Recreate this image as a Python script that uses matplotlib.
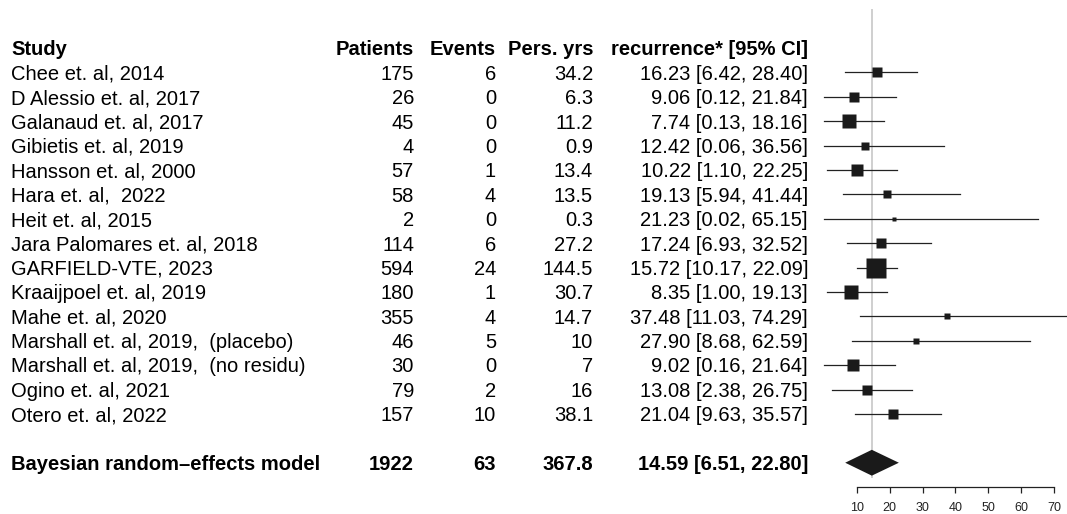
import matplotlib
matplotlib.use("Agg")
import matplotlib.pyplot as plt
import numpy as np

plt.rcParams["font.family"] = ["Liberation Sans", "DejaVu Sans"]

studies = ["Chee et. al, 2014", "D Alessio et. al, 2017", "Galanaud et. al, 2017",
           "Gibietis et. al, 2019", "Hansson et. al, 2000", "Hara et. al,  2022",
           "Heit et. al, 2015", "Jara Palomares et. al, 2018", "GARFIELD-VTE, 2023",
           "Kraaijpoel et. al, 2019", "Mahe et. al, 2020", "Marshall et. al, 2019,  (placebo)",
           "Marshall et. al, 2019,  (no residu)", "Ogino et. al, 2021", "Otero et. al, 2022"]
patients = [175, 26, 45, 4, 57, 58, 2, 114, 594, 180, 355, 46, 30, 79, 157]
events = [6, 0, 0, 0, 1, 4, 0, 6, 24, 1, 4, 5, 0, 2, 10]
pers_yrs = ["34.2", "6.3", "11.2", "0.9", "13.4", "13.5", "0.3", "27.2", "144.5",
            "30.7", "14.7", "10", "7", "16", "38.1"]
est = [16.23, 9.06, 7.74, 12.42, 10.22, 19.13, 21.23, 17.24, 15.72, 8.35, 37.48, 27.90, 9.02, 13.08, 21.04]
lo = [6.42, 0.12, 0.13, 0.06, 1.10, 5.94, 0.02, 6.93, 10.17, 1.00, 11.03, 8.68, 0.16, 2.38, 9.63]
hi = [28.40, 21.84, 18.16, 36.56, 22.25, 41.44, 65.15, 32.52, 22.09, 19.13, 74.29, 62.59, 21.64, 26.75, 35.57]
# relative weights (%)
weights = [6.7, 6.7, 10.4, 3.1, 7.5, 3.5, 1.3, 5.5, 21.8, 11.0, 1.5, 1.5, 7.5, 6.2, 5.9]

summary_label = "Bayesian random\u2013effects model"
summary_n = 1922
summary_events = 63
summary_py = "367.8"
summary_est, summary_lo, summary_hi = 14.59, 6.51, 22.80

headers = ["Study", "Patients", "Events", "Pers. yrs", "recurrence* [95% CI]"]
xticks = [10, 20, 30, 40, 50, 60, 70]

W, H = 1067, 514
fig = plt.figure(figsize=(W / 100, H / 100), dpi=100)
ax = fig.add_axes([0, 0, 1, 1])

# x scale: pixel 856.7 -> 10, 3.293 px per unit
px_per_unit = 3.293
ax.set_xlim(10 - 856.7 / px_per_unit, 10 + (W - 856.7) / px_per_unit)
row_h = 24.39
top_px = 48.1
ax.set_ylim((H - top_px) / row_h, -top_px / row_h)

fs = 14.5
tr = ax.get_yaxis_transform()
col_x = [11 / W, 414 / W, 496 / W, 593 / W, 808 / W]
col_ha = ["left", "right", "right", "right", "right"]
off = 0.30

for x, ha, h in zip(col_x, col_ha, headers):
    ax.text(x, 0 + off, h, transform=tr, ha=ha, va="baseline", fontsize=fs, fontweight="bold")

for i in range(len(studies)):
    y = i + 1
    vals = [studies[i], str(patients[i]), str(events[i]), pers_yrs[i],
            f"{est[i]:.2f} [{lo[i]:.2f}, {hi[i]:.2f}]"]
    for x, ha, v in zip(col_x, col_ha, vals):
        ax.text(x, y + off, v, transform=tr, ha=ha, va="baseline", fontsize=fs)

ys = 17
svals = [summary_label, str(summary_n), str(summary_events), summary_py,
         f"{summary_est:.2f} [{summary_lo:.2f}, {summary_hi:.2f}]"]
for x, ha, v in zip(col_x, col_ha, svals):
    ax.text(x, ys + off, v, transform=tr, ha=ha, va="baseline", fontsize=fs, fontweight="bold")

# reference line at summary estimate
ax.plot([summary_est, summary_est], [-1.57, 17.58], color="#cfcfcf", lw=1.4, zorder=1)

# CIs and boxes
k = 4.13
for i in range(len(studies)):
    y = i + 1
    ax.plot([lo[i], hi[i]], [y, y], color="#222222", lw=0.9, zorder=2)
    side = k * np.sqrt(weights[i]) * 0.72
    ax.plot(est[i], y, marker="s", markersize=side, color="#1a1a1a", mec="none", zorder=3)

# summary diamond
hh = 0.53
ax.fill([summary_lo, summary_est, summary_hi, summary_est],
        [ys, ys - hh, ys, ys + hh], color="#1a1a1a", lw=0, zorder=3)

for s in ["top", "left", "right"]:
    ax.spines[s].set_visible(False)
ax.spines["bottom"].set_position(("data", 18.0))
ax.spines["bottom"].set_bounds(10, 70)
ax.spines["bottom"].set_linewidth(0.9)
ax.spines["bottom"].set_color("#222222")
ax.set_yticks([])
ax.set_xticks(xticks)
ax.set_xticklabels([str(t) for t in xticks])
ax.tick_params(axis="x", direction="out", length=4.3, width=0.9, color="#222222",
               labelsize=9, pad=6.5, labelcolor="#222222")
ax.patch.set_visible(False)

fig.savefig("out.png", dpi=100)
